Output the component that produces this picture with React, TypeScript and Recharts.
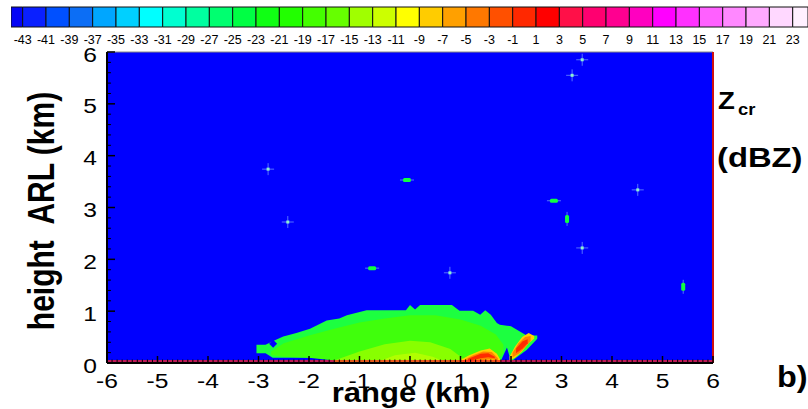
import React from "react";
import {
  ComposedChart,
  BarChart,
  Bar,
  Area,
  Scatter,
  XAxis,
  YAxis,
  CartesianGrid,
  ReferenceLine,
} from "recharts";

// ---------- colour bar ----------
const cbLevels = [
  -43, -41, -39, -37, -35, -33, -31, -29, -27, -25, -23, -21, -19, -17, -15, -13, -11,
  -9, -7, -5, -3, -1, 1, 3, 5, 7, 9, 11, 13, 15, 17, 19, 21, 23,
];
const cbColors = [
  "#0404f6", "#0a20ff", "#0050ff", "#0c6ef5", "#00a6ff", "#00d0ff", "#00ffff",
  "#00ffd0", "#00ffa0", "#00ff70", "#00ff44", "#10ff14", "#22ff00", "#44ff00",
  "#66ff00", "#a0ff00", "#ccff00", "#ffff00", "#ffcc00", "#ffa000", "#ff7800",
  "#ff5000", "#ff2800", "#ff0000", "#ff1048", "#ff0070", "#ff0090", "#ff00c0",
  "#ff00ff", "#ff30ff", "#ff60ff", "#ff88ff", "#ffaaff", "#ffd8ff", "#fff0ff",
];
const cbMin = -44;
const cbMax = 24.31;

// ---------- axes ----------
const xMajor = [-6, -5, -4, -3, -2, -1, 0, 1, 2, 3, 4, 5, 6];
const yMajor = [0, 1, 2, 3, 4, 5, 6];

// ---------- echo field bands: [range km, bottom km, top km] ----------
const echoOuter = [
  [-3.04, 0.19, 0.35], [-2.86, 0.19, 0.35], [-2.72, 0.1, 0.42], [-2.51, 0.1, 0.51],
  [-2.25, 0.1, 0.58], [-1.98, 0.1, 0.66], [-1.65, 0.1, 0.82], [-1.4, 0.02, 0.86],
  [-1.25, 0.0, 0.92], [-0.86, 0.0, 1.02], [-0.08, 0.0, 1.02], [0.0, 0.0, 1.12],
  [0.1, 0.0, 1.03], [0.2, 0.0, 1.12], [0.83, 0.0, 1.12], [0.98, 0.0, 1.01],
  [1.25, 0.0, 1.01], [1.39, 0.0, 0.93], [1.49, 0.0, 1.02], [1.6, 0.0, 0.93],
  [1.72, 0.0, 0.77], [1.78, 0.0, 0.74], [1.92, 0.3, 0.72], [2.0, 0.03, 0.71],
  [2.31, 0.25, 0.53], [2.52, 0.47, 0.53],
];
const echoMid = [
  [-2.75, 0.15, 0.22], [-2.5, 0.12, 0.38], [-2.0, 0.1, 0.53], [-1.5, 0.05, 0.66],
  [-1.0, 0.0, 0.78], [-0.5, 0.0, 0.86], [0.0, 0.0, 0.92], [0.5, 0.0, 0.92],
  [1.0, 0.0, 0.84], [1.4, 0.0, 0.72], [1.7, 0.0, 0.55], [1.85, 0.2, 0.35],
];
const echoCore = [
  [-1.5, 0.0, 0.05], [-1.0, 0.0, 0.22], [-0.5, 0.0, 0.36], [0.0, 0.0, 0.43],
  [0.4, 0.0, 0.4], [0.8, 0.0, 0.27], [1.1, 0.0, 0.05],
];
const echoCoreHi = [
  [-0.6, 0.0, 0.04], [-0.3, 0.0, 0.15], [0.1, 0.0, 0.2], [0.45, 0.0, 0.12], [0.7, 0.0, 0.02],
];
const streak1Yellow = [
  [0.95, 0.0, 0.03], [1.15, 0.0, 0.14], [1.4, 0.02, 0.24], [1.58, 0.04, 0.28],
  [1.72, 0.02, 0.18], [1.8, 0.0, 0.05],
];
const streak1Orange = [
  [1.05, 0.01, 0.05], [1.25, 0.03, 0.15], [1.45, 0.06, 0.22], [1.62, 0.07, 0.21], [1.74, 0.05, 0.09],
];
const streak1Red = [
  [1.15, 0.04, 0.08], [1.4, 0.09, 0.18], [1.55, 0.11, 0.19], [1.68, 0.09, 0.12],
];
const streak2Yellow = [
  [1.97, 0.05, 0.12], [2.08, 0.1, 0.32], [2.22, 0.22, 0.5], [2.35, 0.38, 0.58], [2.46, 0.47, 0.52],
];
const streak2Orange = [
  [2.03, 0.11, 0.2], [2.15, 0.18, 0.38], [2.28, 0.3, 0.5], [2.39, 0.43, 0.52],
];
const streak2Red = [
  [2.1, 0.19, 0.28], [2.23, 0.28, 0.42], [2.33, 0.38, 0.46],
];

// isolated echoes
const sparkles = [
  { x: 3.41, y: 5.85 }, { x: 3.21, y: 5.55 }, { x: -2.81, y: 3.74 }, { x: -2.42, y: 2.72 },
  { x: 0.79, y: 1.74 }, { x: 3.41, y: 2.22 }, { x: 4.51, y: 3.34 },
];
const echoDashH = [
  { x: -0.06, y: 3.53 }, { x: -0.75, y: 1.83 }, { x: 2.85, y: 3.13 },
];
const echoDashV = [
  { x: 3.11, y: 2.78 }, { x: 5.41, y: 1.47 },
];
const holes = [{ x: -2.71, y: 0.37 }];

const bands: [string, number[][], string][] = [
  ["outer", echoOuter, "#1cff40"],
  ["mid", echoMid, "#40ff0c"],
  ["core", echoCore, "#88ff00"],
  ["coreHi", echoCoreHi, "#b0ff00"],
  ["s1y", streak1Yellow, "#ffd000"],
  ["s1o", streak1Orange, "#ff8200"],
  ["s1r", streak1Red, "#ff2a00"],
  ["s2y", streak2Yellow, "#ffd000"],
  ["s2o", streak2Orange, "#ff8200"],
  ["s2r", streak2Red, "#ff2a00"],
];

const allX = Array.from(new Set(bands.flatMap((b) => b[1].map((p) => p[0])))).sort((a, b) => a - b);
const chartData = allX.map((x) => {
  const row: any = { x };
  for (const [key, pts] of bands) {
    const p = pts.find((q) => q[0] === x);
    if (p) row[key] = [p[1], p[2]];
  }
  return row;
});

// colour bar as one stacked horizontal bar; offsets from cbMin
const cbBounds = [cbMin, ...cbLevels, cbMax];
const cbRow: any = { name: "cb" };
cbColors.forEach((_, i) => {
  cbRow["c" + i] = cbBounds[i + 1] - cbBounds[i];
});
const cbData = [cbRow];
const cbTicks = cbLevels.map((v) => v - cbMin);

const xTicks: number[] = [];
for (let i = -60; i <= 60; i++) xTicks.push(i / 10);
const yTicks: number[] = [];
for (let i = 0; i <= 30; i++) yTicks.push(i / 5);

const FONT = "'Liberation Sans', Arial, sans-serif";
const PLOT_BOTTOM = 363;
const PLOT_LEFT = 107;

const isMajor = (v: number) => Math.abs(v - Math.round(v)) < 1e-6;

const XTick = (props: any) => {
  const { x, payload } = props;
  const v = payload.value;
  if (isMajor(v)) {
    return (
      <g>
        <line x1={x} x2={x} y1={PLOT_BOTTOM} y2={PLOT_BOTTOM - 7} stroke="#000" strokeWidth={1.5} />
        <text
          transform={`translate(${x},388) scale(1.2,1)`}
          textAnchor="middle"
          fontSize={20.5}
          fontFamily={FONT}
          fill="#000"
        >
          {xMajor.includes(Math.round(v)) ? String(Math.round(v)) : ""}
        </text>
      </g>
    );
  }
  return <line x1={x} x2={x} y1={PLOT_BOTTOM} y2={PLOT_BOTTOM - 3.5} stroke="#000" strokeWidth={1} />;
};

const YTick = (props: any) => {
  const { y, payload } = props;
  const v = payload.value;
  if (isMajor(v)) {
    return (
      <g>
        <line x1={PLOT_LEFT} x2={PLOT_LEFT + 8} y1={y} y2={y} stroke="#000" strokeWidth={1.5} />
        <text
          transform={`translate(97,${y + 9.5}) scale(1.2,1)`}
          textAnchor="end"
          fontSize={20.5}
          fontFamily={FONT}
          fill="#000"
        >
          {yMajor.includes(Math.round(v)) ? String(Math.round(v)) : ""}
        </text>
      </g>
    );
  }
  return <line x1={PLOT_LEFT} x2={PLOT_LEFT + 4} y1={y} y2={y} stroke="#000" strokeWidth={1} />;
};

const CbTick = (props: any) => {
  const { x, payload } = props;
  return (
    <text x={x} y={44} textAnchor="middle" fontSize={12.5} fontFamily={FONT} fill="#000">
      {String(Math.round(payload.value + cbMin))}
    </text>
  );
};

const SparkleShape = (props: any) => {
  const { cx, cy } = props;
  return (
    <g>
      <line x1={cx - 6} x2={cx + 6} y1={cy} y2={cy} stroke="#5470ff" strokeWidth={1} />
      <line x1={cx} x2={cx} y1={cy - 6} y2={cy + 6} stroke="#5470ff" strokeWidth={1} />
      <rect x={cx - 1.5} y={cy - 1.5} width={3} height={3} fill="#8cf0d0" />
    </g>
  );
};
const DashHShape = (props: any) => {
  const { cx, cy } = props;
  return (
    <g>
      <line x1={cx - 7} x2={cx + 7} y1={cy} y2={cy} stroke="#5470ff" strokeWidth={1} />
      <rect x={cx - 4} y={cy - 2} width={8} height={4} rx={1.5} fill="#10ff40" />
    </g>
  );
};
const DashVShape = (props: any) => {
  const { cx, cy } = props;
  return (
    <g>
      <line x1={cx} x2={cx} y1={cy - 7} y2={cy + 7} stroke="#5470ff" strokeWidth={1} />
      <rect x={cx - 2} y={cy - 4} width={4} height={8} rx={1.5} fill="#10ff40" />
    </g>
  );
};
const HoleShape = (props: any) => {
  const { cx, cy } = props;
  return <polygon points={`${cx - 4},${cy} ${cx},${cy - 4} ${cx + 4},${cy} ${cx},${cy + 4}`} fill="#0000ff" />;
};

export default function App() {
  return (
    <div style={{ position: "fixed", left: 0, top: 0, width: 808, height: 409, overflow: "hidden", background: "#fff" }}>
      {/* colour bar */}
      <div style={{ position: "absolute", left: 0, top: 0 }}>
        <BarChart
          width={808}
          height={50}
          data={cbData}
          layout="vertical"
          barCategoryGap={0}
          barGap={0}
          margin={{ top: 7, right: 0, bottom: 0, left: 11 }}
        >
          <XAxis
            type="number"
            domain={[0, cbMax - cbMin]}
            allowDataOverflow
            ticks={cbTicks}
            interval={0}
            tick={CbTick}
            tickLine={false}
            axisLine={false}
            height={23}
          />
          <YAxis type="category" dataKey="name" hide />
          {cbColors.map((c, i) => (
            <Bar
              key={i}
              dataKey={"c" + i}
              stackId="cb"
              fill={c}
              stroke="#111"
              strokeWidth={1}
              isAnimationActive={false}
            />
          ))}
        </BarChart>
      </div>

      {/* main plot */}
      <div style={{ position: "absolute", left: 0, top: 0 }}>
        <ComposedChart width={808} height={409} data={chartData} margin={{ top: 52, right: 95, bottom: 0, left: 0 }}>
          <CartesianGrid horizontal={false} vertical={false} fill="#0000ff" fillOpacity={1} />
          <XAxis
            type="number"
            dataKey="x"
            domain={[-6, 6]}
            allowDataOverflow
            ticks={xTicks}
            interval={0}
            tick={XTick}
            tickLine={false}
            tickSize={0}
            axisLine={{ stroke: "#000", strokeWidth: 2 }}
            height={46}
          />
          <YAxis
            type="number"
            domain={[0, 6]}
            allowDataOverflow
            ticks={yTicks}
            interval={0}
            tick={YTick}
            tickLine={false}
            tickSize={0}
            axisLine={{ stroke: "#000", strokeWidth: 2 }}
            width={107}
          />
          {bands.map(([key, , color]) => (
            <Area
              key={key}
              type="linear"
              dataKey={key}
              stroke="none"
              fill={color}
              fillOpacity={1}
              connectNulls
              dot={false}
              activeDot={false}
              isAnimationActive={false}
            />
          ))}
          <Scatter data={holes} dataKey="y" shape={HoleShape} isAnimationActive={false} />
          <Scatter data={sparkles} dataKey="y" shape={SparkleShape} isAnimationActive={false} />
          <Scatter data={echoDashH} dataKey="y" shape={DashHShape} isAnimationActive={false} />
          <Scatter data={echoDashV} dataKey="y" shape={DashVShape} isAnimationActive={false} />
          <ReferenceLine y={6} stroke="#888" strokeWidth={1} />
          <ReferenceLine x={6} stroke="#d01010" strokeWidth={2} />
          <ReferenceLine y={0.04} stroke="#ff2020" strokeWidth={1.5} />
        </ComposedChart>
      </div>

      {/* titles */}
      <svg width={808} height={409} style={{ position: "absolute", left: 0, top: 0, pointerEvents: "none" }}>
        <text
          transform="translate(54,211) scale(1.2,1) rotate(-90)"
          textAnchor="middle"
          fontSize={30}
          fontWeight="bold"
          fontFamily={FONT}
          style={{ whiteSpace: "pre" }}
          fill="#000"
        >
          {"height  ARL (km)"}
        </text>
        <text
          transform="translate(411,402) scale(1.15,1)"
          textAnchor="middle"
          fontSize={27}
          fontWeight="bold"
          fontFamily={FONT}
          fill="#000"
        >
          range (km)
        </text>
        <text transform="translate(718,109) scale(1.15,1)" fontSize={24} fontWeight="bold" fontFamily={FONT} fill="#000">
          Z
        </text>
        <text transform="translate(738,115) scale(1.15,1)" fontSize={16} fontWeight="bold" fontFamily={FONT} fill="#000">
          cr
        </text>
        <text transform="translate(717,167) scale(1.17,1)" fontSize={28} fontWeight="bold" fontFamily={FONT} fill="#000">
          (dBZ)
        </text>
        <text transform="translate(777,387) scale(1.08,1)" fontSize={30} fontWeight="bold" fontFamily={FONT} fill="#000">
          b)
        </text>
      </svg>
    </div>
  );
}
